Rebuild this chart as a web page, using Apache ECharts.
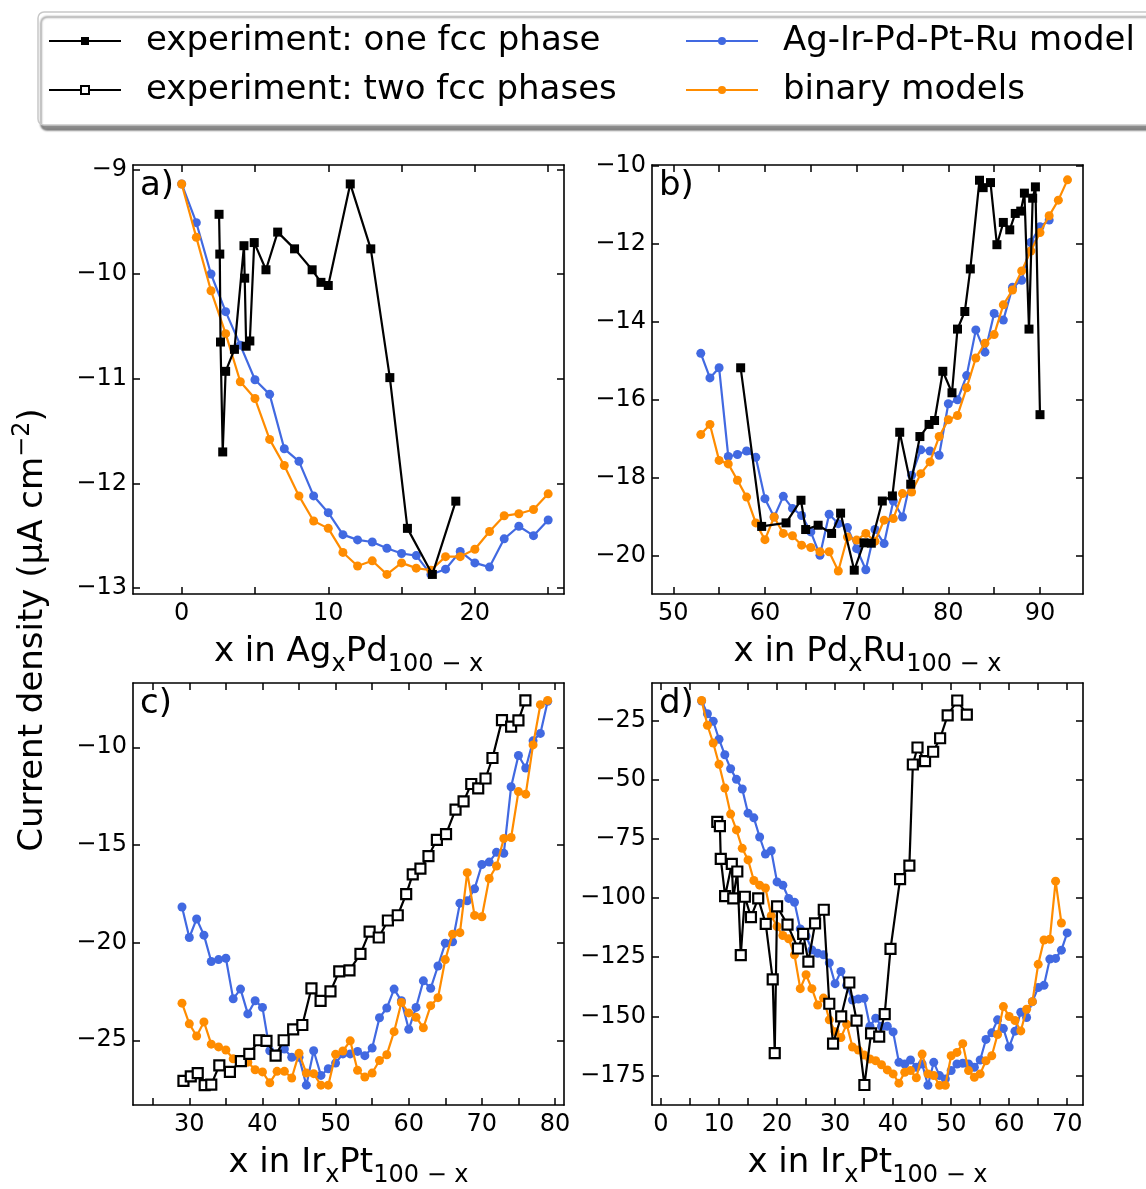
<!DOCTYPE html>
<html><head><meta charset="utf-8">
<script src="https://cdn.jsdelivr.net/npm/echarts@6/dist/echarts.min.js"></script>
<style>html,body{margin:0;padding:0;background:#fff}#c{width:1146px;height:1189px}</style>
</head><body><div id="c"></div>
<script>
// ---------- panel a : AgxPd100-x ----------
const aModelX = [0,1,2,3,4,5,6,7,8,9,10,11,12,13,14,15,16,17,18,19,20,21,22,23,24,25];
const aAlloyY = [-9.14,-9.51,-10.0,-10.36,-10.68,-11.01,-11.15,-11.67,-11.79,-12.12,-12.28,-12.49,-12.54,-12.56,-12.62,-12.67,-12.69,-12.87,-12.82,-12.65,-12.76,-12.80,-12.53,-12.41,-12.50,-12.35];
const aBinY = [-9.14,-9.65,-10.16,-10.57,-11.03,-11.19,-11.58,-11.83,-12.12,-12.36,-12.43,-12.66,-12.79,-12.74,-12.87,-12.76,-12.81,-12.83,-12.70,-12.70,-12.63,-12.46,-12.31,-12.29,-12.25,-12.10];
const aExpX = [2.55,2.6,2.65,2.8,3.0,3.6,4.25,4.3,4.4,4.65,4.95,5.75,6.55,7.7,8.9,9.5,10.0,11.5,12.9,14.2,15.4,17.1,18.7];
const aExpY = [-9.43,-9.81,-10.65,-11.70,-10.93,-10.72,-9.73,-10.04,-10.69,-10.64,-9.70,-9.96,-9.60,-9.76,-9.96,-10.08,-10.11,-9.14,-9.76,-10.99,-12.43,-12.87,-12.17];
// ---------- panel b : PdxRu100-x ----------
const bAlloyX = [53,54,55,56,57,58,59,60,61,62,63,64,65,66,67,68,69,70,71,72,73,74,75,76,77,78,79,80,81,82,83,84,85,86,87,88,89,90,91];
const bAlloyY = [-14.81,-15.44,-15.18,-17.45,-17.40,-17.31,-17.47,-18.53,-19.0,-18.47,-18.78,-18.96,-19.38,-19.98,-18.93,-19.17,-19.27,-19.81,-20.35,-19.32,-19.68,-18.59,-19.0,-17.93,-17.28,-17.31,-17.42,-16.10,-16.0,-15.38,-14.21,-14.78,-13.79,-13.96,-13.12,-12.94,-11.97,-11.57,-11.40];
const bBinX = [53,54,55,56,57,58,59,60,61,62,63,64,65,66,67,68,69,70,71,72,73,74,75,76,77,78,79,80,81,82,83,84,85,86,87,88,89,90,91,92,93];
const bBinY = [-16.89,-16.63,-17.55,-17.64,-18.06,-18.49,-19.15,-19.58,-19.0,-19.42,-19.48,-19.72,-19.78,-19.89,-19.89,-20.38,-19.51,-19.59,-19.42,-19.62,-19.08,-19.04,-18.40,-18.36,-17.89,-17.59,-16.94,-16.51,-16.40,-15.69,-14.93,-14.55,-14.33,-13.57,-13.19,-12.70,-12.19,-11.72,-11.29,-10.89,-10.37];
const bExpX = [57.35,59.64,62.3,63.93,64.44,65.8,67.27,68.25,69.74,70.8,71.6,72.8,73.9,74.7,75.9,76.9,77.9,78.5,79.4,80.4,81.0,81.8,82.4,83.4,83.8,84.6,85.3,86.0,86.7,87.3,87.9,88.3,88.8,89.2,89.5,90.0];
const bExpY = [-15.18,-19.24,-19.15,-18.57,-19.32,-19.21,-19.42,-18.9,-20.36,-19.66,-19.67,-18.59,-18.46,-16.83,-18.16,-16.94,-16.63,-16.53,-15.27,-15.82,-14.19,-13.74,-12.65,-10.38,-10.57,-10.44,-12.03,-11.46,-11.65,-11.23,-11.17,-10.71,-14.19,-10.84,-10.55,-16.38];
// ---------- panel c : IrxPt100-x ----------
const cModelX = [29,30,31,32,33,34,35,36,37,38,39,40,41,42,43,44,45,46,47,48,49,50,51,52,53,54,55,56,57,58,59,60,61,62,63,64,65,66,67,68,69,70,71,72,73,74,75,76,77,78,79];
const cAlloyY = [-18.18,-19.74,-18.79,-19.62,-20.97,-20.87,-20.80,-22.88,-22.38,-23.65,-22.98,-23.32,-25.54,-25.70,-25.45,-25.87,-25.87,-27.30,-25.54,-26.80,-26.46,-26.17,-25.70,-25.70,-25.57,-25.79,-25.40,-23.85,-23.35,-22.38,-22.98,-24.44,-23.32,-21.96,-22.34,-21.20,-20.03,-19.96,-17.98,-17.86,-17.25,-16.00,-15.88,-15.38,-15.43,-12.02,-10.42,-11.06,-9.67,-9.29,-7.65];
const cBinY = [-23.10,-24.16,-24.78,-24.06,-25.20,-25.34,-25.50,-25.95,-26.04,-26.12,-26.51,-26.62,-27.18,-26.59,-26.59,-26.93,-25.67,-26.68,-26.71,-27.30,-27.30,-25.72,-25.55,-25.03,-26.54,-26.88,-26.68,-26.04,-25.74,-24.56,-23.07,-23.60,-23.82,-24.36,-23.23,-22.82,-20.87,-19.57,-19.49,-16.42,-18.61,-18.68,-16.72,-16.08,-14.67,-14.62,-12.27,-12.40,-9.88,-7.82,-7.60];
const cExpX = [29.2,30.2,31.15,32.1,33.0,34.1,35.55,37.05,38.2,39.55,40.55,41.8,42.9,44.2,45.45,46.7,47.95,49.3,50.5,51.9,53.4,54.65,55.9,57.15,58.5,59.65,60.55,61.6,62.7,63.85,65.1,66.4,67.5,68.55,69.5,70.5,71.45,72.75,74.0,75.0,75.95];
const cExpY = [-27.08,-26.85,-26.68,-27.30,-27.27,-26.29,-26.62,-26.07,-25.70,-25.0,-25.03,-25.79,-25.0,-24.44,-24.22,-22.34,-22.98,-22.5,-21.47,-21.42,-20.58,-19.44,-19.74,-18.87,-18.60,-17.52,-16.51,-16.21,-15.57,-14.74,-14.45,-13.19,-12.77,-11.88,-12.10,-11.60,-10.55,-8.61,-8.94,-8.62,-7.60];
// ---------- panel d : IrxPt100-x ----------
const dAlloyX = [7,8,9,10,11,12,13,14,15,16,17,18,19,20,21,22,23,24,25,26,27,28,29,30,31,32,33,34,35,36,37,38,39,40,41,42,43,44,45,46,47,48,49,50,51,52,53,54,55,56,57,58,59,60,61,62,63,64,65,66,67,68,69,70];
const dAlloyY = [-16.5,-21.9,-25.1,-32.7,-39.3,-45.2,-49.7,-53.8,-64.0,-66.0,-74.1,-81.3,-79.9,-93.1,-94.5,-100.1,-101.7,-113.0,-116.0,-121.9,-123.3,-124.0,-127.4,-136.2,-131.0,-136.9,-143.1,-142.7,-142.4,-154.2,-150.8,-154.2,-154.2,-156.6,-169.5,-170.2,-168.5,-171.6,-170.2,-179.2,-169.5,-175.1,-176.5,-173.0,-170.2,-169.9,-170.2,-171.6,-168.5,-159.8,-157.0,-151.5,-155.2,-163.0,-156.3,-148.3,-150.5,-143.8,-137.8,-136.9,-125.8,-125.5,-122.0,-114.7];
const dBinX = [7,8,9,10,11,12,13,14,15,16,17,18,19,20,21,22,23,24,25,26,27,28,29,30,31,32,33,34,35,36,37,38,39,40,41,42,43,44,45,46,47,48,49,50,51,52,53,54,55,56,57,58,59,60,61,62,63,64,65,66,67,68,69];
const dBinY = [-16.3,-26.8,-34.3,-43.3,-53.4,-64.4,-71.1,-78.9,-83.8,-92.5,-94.5,-95.7,-107.4,-112.0,-115.8,-117.2,-124.0,-138.3,-132.4,-138.3,-145.2,-142.3,-151.5,-156.5,-159.0,-153.4,-163.0,-164.3,-166.4,-168.1,-168.8,-170.5,-172.7,-174.4,-178.3,-173.7,-173.0,-176.0,-166.0,-174.4,-175.1,-179.2,-179.2,-166.7,-165.3,-161.6,-173.0,-175.8,-174.4,-168.8,-166.7,-157.7,-145.9,-150.1,-151.8,-156.2,-147.0,-143.8,-128.0,-117.7,-117.4,-92.8,-110.5];
const dExpX = [9.7,10.15,10.3,11.05,12.2,12.45,13.15,13.75,14.45,15.5,16.75,18.05,19.25,19.6,20.0,21.8,23.6,24.5,25.4,26.55,28.05,29.0,29.65,31.05,32.45,33.7,35.05,36.2,37.6,38.55,39.55,41.2,42.8,43.4,44.2,45.5,46.9,48.1,49.4,51.05,52.7];
const dExpY = [-67.7,-69.5,-83.4,-99.1,-85.5,-100.1,-88.7,-124.1,-99.4,-108.0,-100.1,-110.9,-134.4,-165.6,-103.5,-111.2,-121.3,-115.1,-126.9,-110.7,-104.9,-144.7,-161.6,-150.0,-135.7,-151.8,-179.1,-157.2,-158.6,-149.1,-121.5,-91.9,-86.2,-43.4,-36.2,-42.0,-38.0,-32.3,-22.6,-16.3,-22.3];
// ---------- ticks ----------
const aXTicks = [0,5,10,15,20,25], aXLabels = [0,10,20];
const aYTicks = [-13,-12,-11,-10,-9];
const bXTicks = [50,55,60,65,70,75,80,85,90], bXLabels = [50,60,70,80,90];
const bYTicks = [-20,-18,-16,-14,-12,-10];
const cXTicks = [25,30,35,40,45,50,55,60,65,70,75,80], cXLabels = [30,40,50,60,70,80];
const cYTicks = [-25,-20,-15,-10];
const dXTicks = [0,5,10,15,20,25,30,35,40,45,50,55,60,65,70], dXLabels = [0,10,20,30,40,50,60,70];
const dYTicks = [-175,-150,-125,-100,-75,-50,-25];

const NAME_ONE = 'experiment: one fcc phase';
const NAME_TWO = 'experiment: two fcc phases';
const NAME_ALLOY = 'Ag-Ir-Pd-Pt-Ru model';
const NAME_BIN = 'binary models';
const BLUE = '#4169E1', ORANGE = '#FF8C00';
const FONT = 'DejaVu Sans';

const zip = (xs, ys) => xs.map((x, i) => [x, ys[i]]);
const fmt = v => (v < 0 ? '\u2212' + Math.abs(v) : String(v));

const panels = [
  {grid:{left:133, top:165, width:431, height:429}, xr:[-3.32,26.08], yr:[-13.057,-8.959], xt:aXTicks, xl:aXLabels, yt:aYTicks,
   name:'x in Ag{sub|x}Pd{sub|100 \u2212 x}', tag:'a)', exp:NAME_ONE, expX:aExpX, expY:aExpY, mX:aModelX, mY:aAlloyY, bX:aModelX, bY:aBinY},
  {grid:{left:652, top:165, width:431, height:429}, xr:[47.68,94.69], yr:[-20.97,-9.99], xt:bXTicks, xl:bXLabels, yt:bYTicks,
   name:'x in Pd{sub|x}Ru{sub|100 \u2212 x}', tag:'b)', exp:NAME_ONE, expX:bExpX, expY:bExpY, mX:bAlloyX, mY:bAlloyY, bX:bBinX, bY:bBinY},
  {grid:{left:133, top:683, width:431, height:429}, xr:[22.30,81.23], yr:[-28.32,-6.71], xt:cXTicks, xl:cXLabels, yt:cYTicks,
   name:'x in Ir{sub|x}Pt{sub|100 \u2212 x}', tag:'c)', exp:NAME_TWO, expX:cExpX, expY:cExpY, mX:cModelX, mY:cAlloyY, bX:cModelX, bY:cBinY},
  {grid:{left:652, top:683, width:431, height:429}, xr:[-1.55,72.72], yr:[-187.6,-8.9], xt:dXTicks, xl:dXLabels, yt:dYTicks,
   name:'x in Ir{sub|x}Pt{sub|100 \u2212 x}', tag:'d)', exp:NAME_TWO, expX:dExpX, expY:dExpY, mX:dAlloyX, mY:dAlloyY, bX:dBinX, bY:dBinY}
];

const lineAx = {show:true, onZero:false, lineStyle:{color:'#000', width:1.6}};
const grids = [], xAxes = [], yAxes = [], series = [], graphics = [];
panels.forEach((p, i) => {
  grids.push(Object.assign({containLabel:false}, p.grid));
  const tick = vals => ({show:true, inside:true, length:7, customValues:vals, lineStyle:{color:'#000', width:1.5}});
  xAxes.push({type:'value', gridIndex:i, position:'bottom', min:p.xr[0], max:p.xr[1],
    axisLine:lineAx, axisTick:tick(p.xt), splitLine:{show:false},
    axisLabel:{customValues:p.xl, formatter:fmt, fontSize:24, color:'#000', fontFamily:FONT, margin:8},
    name:p.name, nameLocation:'middle', nameGap:30,
    nameTextStyle:{fontSize:34, color:'#000', fontFamily:FONT, lineHeight:50,
      rich:{sub:{fontSize:24, lineHeight:24, fontFamily:FONT, color:'#000', verticalAlign:'bottom'}}}});
  xAxes.push({type:'value', gridIndex:i, position:'top', min:p.xr[0], max:p.xr[1],
    axisLine:lineAx, axisTick:tick(p.xt), splitLine:{show:false}, axisLabel:{show:false}});
  yAxes.push({type:'value', gridIndex:i, position:'left', min:p.yr[0], max:p.yr[1],
    axisLine:lineAx, axisTick:tick(p.yt), splitLine:{show:false},
    axisLabel:{customValues:p.yt, formatter:fmt, fontSize:24, color:'#000', fontFamily:FONT, margin:6}});
  yAxes.push({type:'value', gridIndex:i, position:'right', min:p.yr[0], max:p.yr[1],
    axisLine:lineAx, axisTick:tick(p.yt), splitLine:{show:false}, axisLabel:{show:false}});
  const xi = i * 2, yi = i * 2;
  series.push({type:'line', name:NAME_ALLOY, xAxisIndex:xi, yAxisIndex:yi, data:zip(p.mX, p.mY),
    symbol:'circle', symbolSize:9, itemStyle:{color:BLUE}, lineStyle:{color:BLUE, width:2.2}, z:2});
  series.push({type:'line', name:NAME_BIN, xAxisIndex:xi, yAxisIndex:yi, data:zip(p.bX, p.bY),
    symbol:'circle', symbolSize:9, itemStyle:{color:ORANGE}, lineStyle:{color:ORANGE, width:2.2}, z:3});
  const open = p.exp === NAME_TWO;
  series.push({type:'line', name:p.exp, xAxisIndex:xi, yAxisIndex:yi, data:zip(p.expX, p.expY),
    symbol:'rect', symbolSize:open ? 10 : 9,
    itemStyle: open ? {color:'#fff', borderColor:'#000', borderWidth:2.2} : {color:'#000'},
    lineStyle:{color:'#000', width:2.2}, z:4});
  graphics.push({type:'text', left:p.grid.left + 7, top:p.grid.top + 4, z:10,
    style:{text:p.tag, fontSize:34, fontFamily:FONT, fill:'#000'}});
});

graphics.push({type:'text', x:33, y:630, rotation:Math.PI/2, z:10,
  style:{text:'Current density (\u00b5A cm{sup|\u22122})', fontSize:34, fontFamily:FONT, fill:'#000',
    lineHeight:44, align:'center', verticalAlign:'middle', textAlign:'center', textVerticalAlign:'middle',
    rich:{sup:{fontSize:24, lineHeight:24, fontFamily:FONT, fill:'#000', verticalAlign:'top'}}}});

const chart = echarts.init(document.getElementById('c'), null, {renderer:'canvas'});
chart.setOption({
  animation:false,
  backgroundColor:'#fff',
  textStyle:{fontFamily:FONT},
  legend:{orient:'vertical', left:38, top:12, height:95, itemWidth:72, itemHeight:10, itemGap:9,
    selectedMode:false,
    data:[NAME_ONE, NAME_TWO, NAME_ALLOY, NAME_BIN],
    textStyle:{fontSize:34, color:'#000', fontFamily:FONT, lineHeight:40, width:530, padding:[0,0,0,20]},
    backgroundColor:'#fff', borderColor:'#c8c8c8', borderWidth:1.5, borderRadius:6,
    padding:[9,30,15,10], shadowColor:'rgba(0,0,0,0.45)', shadowBlur:2, shadowOffsetX:3, shadowOffsetY:5},
  grid:grids, xAxis:xAxes, yAxis:yAxes, series:series, graphic:graphics
});
</script></body></html>
